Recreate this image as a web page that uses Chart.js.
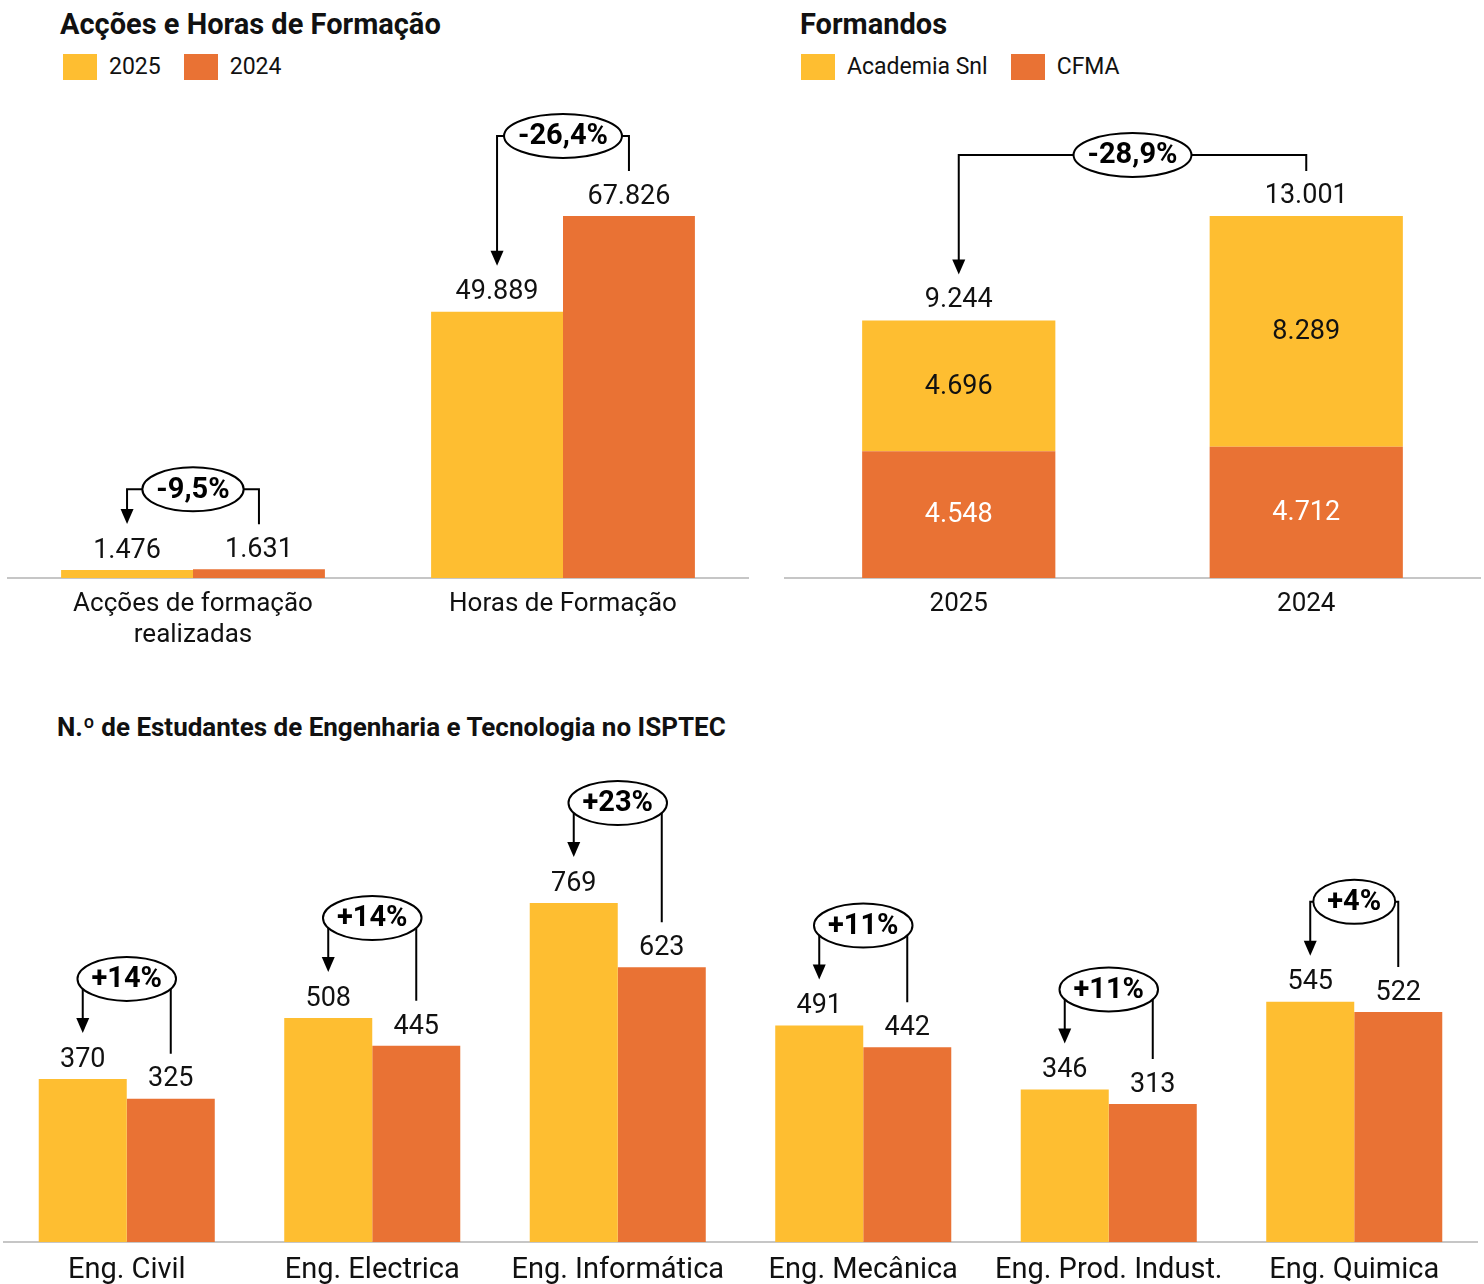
<!DOCTYPE html>
<html>
<head>
<meta charset="utf-8">
<script src="https://cdn.jsdelivr.net/npm/chart.js@4.4.1/dist/chart.umd.min.js"></script>
<style>
  html, body { margin: 0; padding: 0; background: #fff; }
  body { width: 1484px; height: 1284px; position: relative; overflow: hidden; font-family: Roboto, sans-serif; color: #111; }
  .title { position: absolute; font-weight: 700; white-space: nowrap; line-height: 1; }
  .legend { position: absolute; display: flex; align-items: center; font-size: 23px; white-space: nowrap; }
  .legend .item { display: flex; align-items: center; margin-right: 23px; }
  .legend .box { display: inline-block; width: 34px; height: 26px; margin-right: 12px; }
  canvas { position: absolute; }
</style>
</head>
<body>

<div class="title" style="left:60px; top:10px; font-size:29px;">Acções e Horas de Formação</div>
<div class="legend" style="left:63px; top:53px;">
  <span class="item"><span class="box" style="background:#FEBE31"></span>2025</span>
  <span class="item"><span class="box" style="background:#E97234"></span>2024</span>
</div>

<div class="title" style="left:800px; top:10px; font-size:29px;">Formandos</div>
<div class="legend" style="left:801px; top:53px;">
  <span class="item"><span class="box" style="background:#FEBE31"></span>Academia Snl</span>
  <span class="item"><span class="box" style="background:#E97234"></span>CFMA</span>
</div>

<div class="title" style="left:57px; top:714px; font-size:26px;">N.º de Estudantes de Engenharia e Tecnologia no ISPTEC</div>

<canvas id="acoes" width="756" height="560" style="left:0px; top:100px;"></canvas>
<canvas id="formandos" width="707" height="560" style="left:777px; top:100px;"></canvas>
<canvas id="estudantes" width="1484" height="524" style="left:0px; top:760px;"></canvas>

<script>
// Acções e Horas de Formação
const acoesCats = [['Acções de formação', 'realizadas'], 'Horas de Formação'];
const acoes2025 = [1476, 49889];
const acoes2024 = [1631, 67826];
const acoesPct = ['-9,5%', '-26,4%'];

// Formandos
const formCats = ['2025', '2024'];
const formAcademia = [4696, 8289];
const formCfma = [4548, 4712];
const formPct = ['-28,9%'];

// Estudantes ISPTEC
const engCats = ['Eng. Civil', 'Eng. Electrica', 'Eng. Informática', 'Eng. Mecânica', 'Eng. Prod. Indust.', 'Eng. Quimica'];
const eng2025 = [370, 508, 769, 491, 346, 545];
const eng2024 = [325, 445, 623, 442, 313, 522];
const engPct = ['+14%', '+14%', '+23%', '+11%', '+11%', '+4%'];

const AMARELO = '#FEBE31';
const LARANJA = '#E97234';

Chart.defaults.font.family = 'Roboto, sans-serif';
Chart.defaults.color = '#111';

// 1.476 / 49.889 ...
const fmt = v => String(v).replace(/\B(?=(\d{3})+(?!\d))/g, '.');

// valores por cima das barras (ou dentro, no empilhado)
const valueLabels = {
    id: 'valueLabels',
    afterDatasetsDraw(chart, args, opts) {
        const ctx = chart.ctx;
        ctx.save();
        ctx.font = opts.size + 'px Roboto, sans-serif';
        ctx.textAlign = 'center';
        ctx.textBaseline = 'middle';
        if (opts.stacked) {
            chart.data.datasets.forEach((ds, di) => {
                chart.getDatasetMeta(di).data.forEach((bar, i) => {
                    ctx.fillStyle = ds.labelColor;
                    ctx.fillText(fmt(ds.data[i]), bar.x, (bar.y + bar.base) / 2 + 1);
                });
            });
            // total por cima
            chart.data.labels.forEach((l, i) => {
                let top = Infinity, total = 0, x = 0;
                chart.data.datasets.forEach((ds, di) => {
                    const bar = chart.getDatasetMeta(di).data[i];
                    top = Math.min(top, bar.y);
                    total += ds.data[i];
                    x = bar.x;
                });
                ctx.fillStyle = '#111';
                ctx.fillText(fmt(total), x, top - opts.gap);
            });
        } else {
            chart.data.datasets.forEach((ds, di) => {
                chart.getDatasetMeta(di).data.forEach((bar, i) => {
                    ctx.fillStyle = '#111';
                    ctx.fillText(fmt(ds.data[i]), bar.x, bar.y - opts.gap);
                });
            });
        }
        ctx.restore();
    }
};

// setas com a variação percentual dentro de uma elipse
const brackets = {
    id: 'brackets',
    afterDatasetsDraw(chart, args, opts) {
        const ctx = chart.ctx;
        const pairs = [];
        if (opts.stacked) {
            const topOf = i => {
                let t = Infinity, x = 0;
                chart.data.datasets.forEach((ds, di) => {
                    const b = chart.getDatasetMeta(di).data[i];
                    t = Math.min(t, b.y); x = b.x;
                });
                return { x: x, y: t };
            };
            pairs.push([topOf(0), topOf(1), opts.labels[0]]);
        } else {
            const m0 = chart.getDatasetMeta(0).data, m1 = chart.getDatasetMeta(1).data;
            m0.forEach((b, i) => pairs.push([{ x: b.x, y: b.y }, { x: m1[i].x, y: m1[i].y }, opts.labels[i]]));
        }
        ctx.save();
        ctx.strokeStyle = '#000';
        ctx.fillStyle = '#000';
        ctx.lineWidth = 2;
        ctx.font = 'bold 29px Roboto, sans-serif';
        ctx.textAlign = 'center';
        ctx.textBaseline = 'middle';
        pairs.forEach(([a, b, txt]) => {
            const yTop = Math.min(a.y, b.y) - opts.rise;
            const tip = a.y - 46;
            ctx.beginPath();
            ctx.moveTo(a.x, tip - 14);
            ctx.lineTo(a.x, yTop);
            ctx.lineTo(b.x, yTop);
            ctx.lineTo(b.x, b.y - 45);
            ctx.stroke();
            ctx.beginPath();
            ctx.moveTo(a.x - 6.5, tip - 15);
            ctx.lineTo(a.x + 6.5, tip - 15);
            ctx.lineTo(a.x, tip);
            ctx.closePath();
            ctx.fill();
            const w = ctx.measureText(txt).width;
            const cx = (a.x + b.x) / 2;
            ctx.beginPath();
            ctx.ellipse(cx, yTop, w / 2 + 14, 22, 0, 0, Math.PI * 2);
            ctx.fillStyle = '#fff';
            ctx.fill();
            ctx.stroke();
            ctx.fillStyle = '#000';
            ctx.fillText(txt, cx, yTop + 1);
        });
        ctx.restore();
    }
};

function xAxis(size, pad, h) {
    return {
        grid: { display: false, drawTicks: false },
        border: { display: true, color: '#c6c6c6', width: 2 },
        ticks: { color: '#111', font: { size: size }, padding: pad, maxRotation: 0, autoSkip: false },
        afterFit: s => { s.height = h; }
    };
}

new Chart(document.getElementById('acoes'), {
    type: 'bar',
    data: {
        labels: acoesCats,
        datasets: [
            { label: '2025', data: acoes2025, backgroundColor: AMARELO },
            { label: '2024', data: acoes2024, backgroundColor: LARANJA }
        ]
    },
    options: {
        responsive: false,
        animation: false,
        layout: { padding: { left: 8, right: 8, top: 0, bottom: 0 } },
        datasets: { bar: { categoryPercentage: 0.713, barPercentage: 1 } },
        scales: {
            x: xAxis(26, 11, 82),
            y: { display: false, min: 0, max: 89559 }
        },
        plugins: {
            legend: { display: false },
            tooltip: { enabled: false },
            valueLabels: { size: 27, gap: 19 },
            brackets: { labels: acoesPct, rise: 80 }
        }
    },
    plugins: [valueLabels, brackets]
});

new Chart(document.getElementById('formandos'), {
    type: 'bar',
    data: {
        labels: formCats,
        datasets: [
            { label: 'CFMA', data: formCfma, backgroundColor: LARANJA, labelColor: '#fff' },
            { label: 'Academia Snl', data: formAcademia, backgroundColor: AMARELO, labelColor: '#111' }
        ]
    },
    options: {
        responsive: false,
        animation: false,
        layout: { padding: { left: 8, right: 4, top: 0, bottom: 0 } },
        datasets: { bar: { categoryPercentage: 0.556, barPercentage: 1 } },
        scales: {
            x: Object.assign(xAxis(26, 11, 82), { stacked: true }),
            y: { display: false, stacked: true, min: 0, max: 17167 }
        },
        plugins: {
            legend: { display: false },
            tooltip: { enabled: false },
            valueLabels: { size: 27, gap: 20, stacked: true },
            brackets: { labels: formPct, rise: 61, stacked: true }
        }
    },
    plugins: [valueLabels, brackets]
});

new Chart(document.getElementById('estudantes'), {
    type: 'bar',
    data: {
        labels: engCats,
        datasets: [
            { label: '2025', data: eng2025, backgroundColor: AMARELO },
            { label: '2024', data: eng2024, backgroundColor: LARANJA }
        ]
    },
    options: {
        responsive: false,
        animation: false,
        layout: { padding: { left: 4, right: 7, top: 0, bottom: 0 } },
        datasets: { bar: { categoryPercentage: 0.717, barPercentage: 1 } },
        scales: {
            x: xAxis(29, 11, 42),
            y: { display: false, min: 0, max: 1093.4 }
        },
        plugins: {
            legend: { display: false },
            tooltip: { enabled: false },
            valueLabels: { size: 27, gap: 19 },
            brackets: { labels: engPct, rise: 100 }
        }
    },
    plugins: [valueLabels, brackets]
});
</script>
</body>
</html>
